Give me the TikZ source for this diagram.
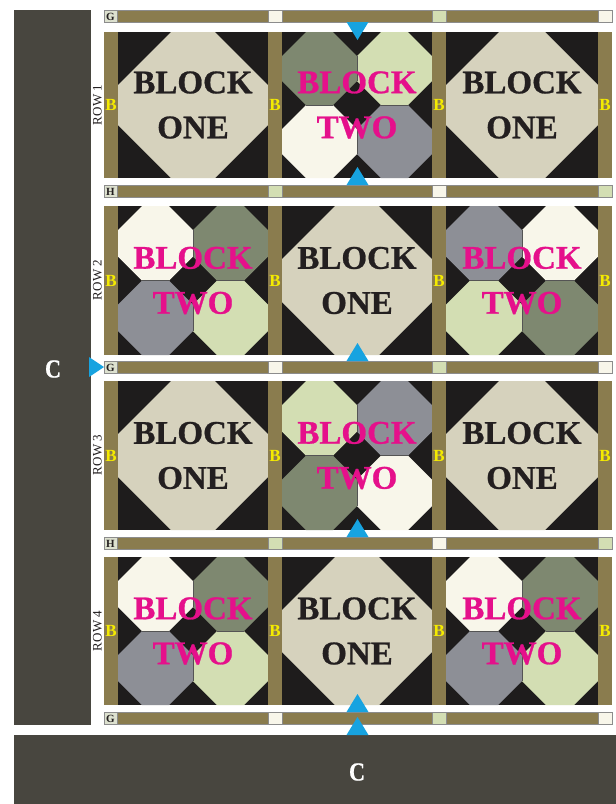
\documentclass[tikz,border=0pt]{standalone}
\usepackage{fontspec}
\setmainfont{Liberation Serif}
\newfontface\blkfont[FakeBold=0.8]{Liberation Serif Bold}
\definecolor{cbar}{HTML}{48463F}
\definecolor{olive}{HTML}{8A7C4E}
\definecolor{blk}{HTML}{1E1C1C}
\definecolor{tanc}{HTML}{D6D2BD}
\definecolor{dgreen}{HTML}{7E8870}
\definecolor{lgreen}{HTML}{D3DEB3}
\definecolor{cream}{HTML}{F8F6EA}
\definecolor{greyq}{HTML}{8D8F96}
\definecolor{mag}{HTML}{E5108B}
\definecolor{yel}{HTML}{F5EB00}
\definecolor{blu}{HTML}{17A3E0}
\definecolor{lab}{HTML}{DDE1CF}
\definecolor{txtd}{HTML}{231F20}
\definecolor{sline}{HTML}{8C8C8C}
\tikzset{
  bigtxt/.style={font=\fontsize{33}{45}\selectfont\blkfont, align=center, inner sep=0pt},
  blab/.style={font=\fontsize{17}{17}\selectfont\bfseries, text=yel, inner sep=0pt},
  slab/.style={font=\fontsize{11}{11}\selectfont\bfseries, text=txtd, inner sep=0pt},
  rowlab/.style={font=\fontsize{13}{13}\selectfont, text=txtd, rotate=90, inner sep=0pt},
  ctxt/.style={font=\fontsize{26}{26}\selectfont\blkfont, text=white, inner sep=0pt, xscale=0.85},
  sashline/.style={draw=sline, line width=0.6pt},
  seam/.style={draw=sline!60!black, line width=0.4pt},
}
\newcommand{\QOct}[6]{%
  \fill[#6] ({#1+#5},{#2}) -- ({#1+#3-#5},{#2}) -- ({#1+#3},{#2+#5}) -- ({#1+#3},{#2+#4-#5}) -- ({#1+#3-#5},{#2+#4}) -- ({#1+#5},{#2+#4}) -- ({#1},{#2+#4-#5}) -- ({#1},{#2+#5}) -- cycle;}
\newcommand{\BOne}[5]{%
  \fill[blk] (#1,#2) rectangle ++(#3,#4);
  \QOct{#1}{#2}{#3}{#4}{53}{tanc}
  \node[bigtxt,text=txtd] (#5) at ({#1+#3/2},{#2+#4/2}) {BLOCK\\ONE};}
\newcommand{\BTwo}[9]{%
  \fill[blk] (#1,#2) rectangle ++(#3,#4);
  \QOct{#1}{#2}{#3/2}{#4/2}{24}{#5}
  \QOct{#1+#3/2}{#2}{#3/2}{#4/2}{24}{#6}
  \QOct{#1}{#2+#4/2}{#3/2}{#4/2}{24}{#7}
  \QOct{#1+#3/2}{#2+#4/2}{#3/2}{#4/2}{24}{#8}
  \draw[seam] ({#1+#3/2},{#2+24}) -- ({#1+#3/2},{#2+#4/2-24})
              ({#1+#3/2},{#2+#4/2+24}) -- ({#1+#3/2},{#2+#4-24})
              ({#1+24},{#2+#4/2}) -- ({#1+#3/2-24},{#2+#4/2})
              ({#1+#3/2+24},{#2+#4/2}) -- ({#1+#3-24},{#2+#4/2});
  \node[bigtxt,text=mag] (#9) at ({#1+#3/2},{#2+#4/2}) {BLOCK\\TWO};}
\newcommand{\Sash}[6]{%
  \fill[olive] (104,#1) rectangle (612,#1+12);
  \fill[lab] (104,#1) rectangle (117,#1+12);
  \fill[#3] (268,#1) rectangle (282,#1+12);
  \fill[#4] (432,#1) rectangle (446,#1+12);
  \fill[#5] (598,#1) rectangle (612,#1+12);
  \draw[sashline] (104,#1) rectangle (612,#1+12);
  \foreach \xx in {117,268,282,432,446,598}{\draw[sashline] (\xx,#1) -- (\xx,#1+12);}
  \node[slab] (#6) at (110.5,#1+6.5) {#2};}
\newcommand{\RowB}[3]{%
  \foreach \xx/\nn in {104/a,268/b,432/c,598/d}{%
    \fill[olive] (\xx,#1) rectangle ++(14,#2);
    \node[blab] (#3\nn) at (\xx+7,#1+#2/2) {B};}}
\begin{document}
\begin{tikzpicture}[x=1pt,y=-1pt]
\useasboundingbox (0,0) rectangle (616,804);
\fill[white] (0,0) rectangle (616,804);
% C bars
\fill[cbar] (14,10) rectangle (91,725);
\node[ctxt] (cleft) at (53,369) {C};
\fill[cbar] (14,735) rectangle (616,804);
\node[ctxt] (cbot) at (357,772) {C};
% sashing strips
\Sash{10}{G}{cream}{lgreen}{cream}{s1}
\Sash{185}{H}{lgreen}{cream}{lgreen}{s2}
\Sash{361}{G}{cream}{lgreen}{cream}{s3}
\Sash{537}{H}{lgreen}{cream}{lgreen}{s4}
\Sash{712}{G}{cream}{lgreen}{cream}{s5}
% row 1
\BOne{118}{32}{150}{146}{r1b1}
\BTwo{282}{32}{150}{146}{dgreen}{lgreen}{cream}{greyq}{r1b2}
\BOne{446}{32}{152}{146}{r1b3}
\RowB{32}{146}{r1}
% row 2
\BTwo{118}{206}{150}{149}{cream}{dgreen}{greyq}{lgreen}{r2b1}
\BOne{282}{206}{150}{149}{r2b2}
\BTwo{446}{206}{152}{149}{greyq}{cream}{lgreen}{dgreen}{r2b3}
\RowB{206}{149}{r2}
% row 3
\BOne{118}{381}{150}{149}{r3b1}
\BTwo{282}{381}{150}{149}{lgreen}{greyq}{dgreen}{cream}{r3b2}
\BOne{446}{381}{152}{149}{r3b3}
\RowB{381}{149}{r3}
% row 4
\BTwo{118}{557}{150}{148}{cream}{dgreen}{greyq}{lgreen}{r4b1}
\BOne{282}{557}{150}{148}{r4b2}
\BTwo{446}{557}{152}{148}{cream}{dgreen}{greyq}{lgreen}{r4b3}
\RowB{557}{148}{r4}
% row labels
\node[rowlab] (rl1) at (97.5,105) {ROW 1};
\node[rowlab] (rl2) at (97.5,280) {ROW 2};
\node[rowlab] (rl3) at (97.5,455) {ROW 3};
\node[rowlab] (rl4) at (97.5,631) {ROW 4};
% blue triangles
\fill[blu] (346.5,22) -- (368.5,22) -- (357.5,40) -- cycle;
\fill[blu] (346.5,185) -- (368.5,185) -- (357.5,167) -- cycle;
\fill[blu] (346.5,361) -- (368.5,361) -- (357.5,343) -- cycle;
\fill[blu] (89,357) -- (89,377) -- (104,367) -- cycle;
\fill[blu] (346.5,537) -- (368.5,537) -- (357.5,519) -- cycle;
\fill[blu] (346.5,712) -- (368.5,712) -- (357.5,694) -- cycle;
\fill[blu] (346.5,735) -- (368.5,735) -- (357.5,717) -- cycle;
\end{tikzpicture}
\end{document}
